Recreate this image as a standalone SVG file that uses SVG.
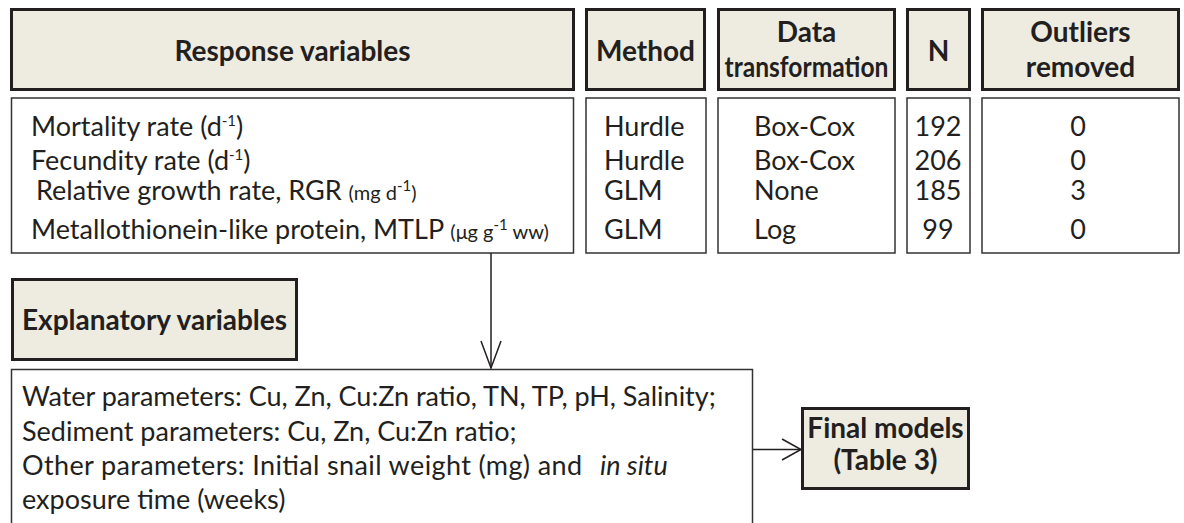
<svg xmlns="http://www.w3.org/2000/svg" width="1184" height="523" viewBox="0 0 1184 523">
<style>
.hd{fill:#EEECE1;stroke:#231F20;stroke-width:3}
.bx{fill:#FFFFFF;stroke:#333333;stroke-width:1.5}
.ht{font-family:Lato,"Liberation Sans",sans-serif;font-weight:bold;font-size:28px;fill:#231F20;text-anchor:middle}
.tx{font-family:Lato,"Liberation Sans",sans-serif;font-size:27px;fill:#231F20}
.sm{font-size:20px}
.sup{font-size:15px}
.mid{text-anchor:middle}
.cn{fill:none;stroke:#231F20;stroke-width:1.5}
</style>
<defs>
<marker id="av" viewBox="0 0 30 24" refX="28" refY="12" markerWidth="30" markerHeight="24" orient="auto" markerUnits="userSpaceOnUse">
<path d="M1,2 L28,12 L1,22" fill="none" stroke="#231F20" stroke-width="1.5"/>
</marker>
<marker id="ah" viewBox="0 0 22 24" refX="20" refY="12" markerWidth="22" markerHeight="24" orient="auto" markerUnits="userSpaceOnUse">
<path d="M1,1.5 L20,12 L1,22.5" fill="none" stroke="#231F20" stroke-width="1.5"/>
</marker>
</defs>

<g id="hdr-response"><rect class="hd" x="11.5" y="9.5" width="562" height="80"/><text class="ht" x="292.5" y="61">Response variables</text></g>
<g id="hdr-method"><rect class="hd" x="586.5" y="9.5" width="118" height="80"/><text class="ht" x="645.5" y="61">Method</text></g>
<g id="hdr-transform"><rect class="hd" x="718.5" y="9.5" width="176" height="80"/><text class="ht" x="806.5" y="42">Data</text><text class="ht" x="806.5" y="77" textLength="164" lengthAdjust="spacingAndGlyphs">transformation</text></g>
<g id="hdr-n"><rect class="hd" x="907.5" y="9.5" width="62" height="80"/><text class="ht" x="938.5" y="61">N</text></g>
<g id="hdr-outliers"><rect class="hd" x="982.5" y="9.5" width="196" height="80"/><text class="ht" x="1080.5" y="42">Outliers</text><text class="ht" x="1080.5" y="77">removed</text></g>

<g id="data-response"><rect class="bx" x="11.5" y="98" width="562" height="155"/>
<text class="tx" x="31" y="136">Mortality rate (d<tspan class="sup" dy="-10">-1</tspan><tspan dy="10">)</tspan></text>
<text class="tx" x="31" y="170">Fecundity rate (d<tspan class="sup" dy="-10">-1</tspan><tspan dy="10">)</tspan></text>
<text class="tx" x="36" y="200">Relative growth rate, RGR <tspan class="sm">(mg d</tspan><tspan class="sup" dy="-9">-1</tspan><tspan class="sm" dy="9">)</tspan></text>
<text class="tx" x="31" y="239">Metallothionein-like protein, MTLP <tspan class="sm">(μg g</tspan><tspan class="sup" dy="-9">-1</tspan><tspan class="sm" dy="9"> ww)</tspan></text>
</g>
<g id="data-method"><rect class="bx" x="586" y="98" width="120" height="155"/>
<text class="tx" x="604" y="136">Hurdle</text><text class="tx" x="604" y="170">Hurdle</text><text class="tx" x="604" y="200">GLM</text><text class="tx" x="604" y="239">GLM</text></g>
<g id="data-transform"><rect class="bx" x="718" y="98" width="177" height="155"/>
<text class="tx" x="754" y="136">Box-Cox</text><text class="tx" x="754" y="170">Box-Cox</text><text class="tx" x="754" y="200">None</text><text class="tx" x="754" y="239">Log</text></g>
<g id="data-n"><rect class="bx" x="907" y="98" width="63" height="155"/>
<text class="tx mid" x="938" y="136">192</text><text class="tx mid" x="938" y="170">206</text><text class="tx mid" x="938" y="200">185</text><text class="tx mid" x="938" y="239">99</text></g>
<g id="data-outliers"><rect class="bx" x="982" y="98" width="197" height="155"/>
<text class="tx mid" x="1078" y="136">0</text><text class="tx mid" x="1078" y="170">0</text><text class="tx mid" x="1078" y="200">3</text><text class="tx mid" x="1078" y="239">0</text></g>

<g id="hdr-explanatory"><rect class="hd" x="12.5" y="279.5" width="284" height="80"/><text class="ht" x="154.5" y="330">Explanatory variables</text></g>

<g id="explanatory-list"><rect class="bx" x="11.5" y="369.5" width="741" height="170"/>
<text class="tx" x="22" y="406">Water parameters: Cu, Zn, Cu:Zn ratio, TN, TP, pH, Salinity;</text>
<text class="tx" x="22" y="441">Sediment parameters: Cu, Zn, Cu:Zn ratio;</text>
<text class="tx" x="22" y="475" textLength="560" lengthAdjust="spacing">Other parameters: Initial snail weight (mg) and</text>
<text class="tx" x="600" y="475" font-style="italic">in situ</text>
<text class="tx" x="22" y="509">exposure time (weeks)</text>
</g>

<g id="final-models"><rect class="hd" x="802.5" y="408.5" width="166" height="80"/><text class="ht" x="885.5" y="438">Final models</text><text class="ht" x="885.5" y="470">(Table 3)</text></g>

<g id="connectors">
<line class="cn" x1="491" y1="253" x2="491" y2="368" marker-end="url(#av)"/>
<line class="cn" x1="753" y1="449.5" x2="801" y2="449.5" marker-end="url(#ah)"/>
</g>
</svg>
